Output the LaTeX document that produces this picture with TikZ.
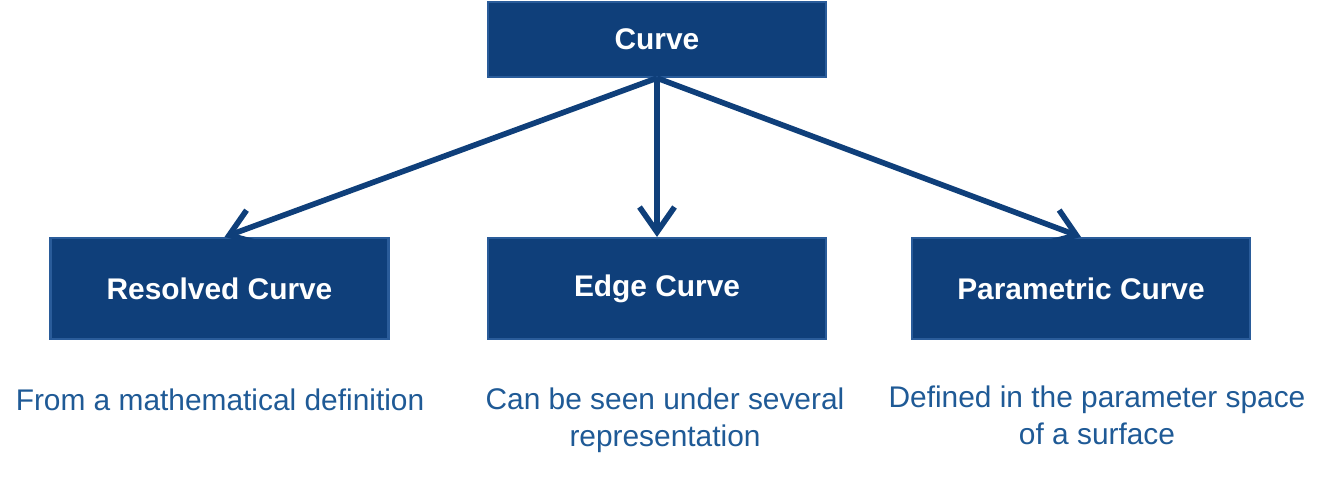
\documentclass[tikz,border=0pt]{standalone}
\usepackage{fontspec}
\setmainfont{Liberation Sans}
\usetikzlibrary{positioning,arrows.meta}
\definecolor{boxblue}{HTML}{0F3F7A}
\definecolor{edgeblue}{HTML}{2A5C9A}
\definecolor{textblue}{HTML}{1F5A96}

\begin{document}
\begin{tikzpicture}
[font=\fontsize{8.5}{10.5}\selectfont,
    >={Straight Barb[length=2.5mm,width=3.5mm]},
    every node/.style={align=center},
    kind/.style={rectangle, fill=boxblue, draw=edgeblue, line width=0.6pt,
    text=white, font=\fontsize{8.5}{10}\selectfont\bfseries,
    minimum width=3.38cm, minimum height=1.01cm},
    note/.style={text=textblue},
    link/.style={->, draw=boxblue, line width=1.6pt},
    ]
    \useasboundingbox (0,0) rectangle (13.29,4.84);

    \node[kind, minimum height=0.75cm] (curve) at (6.57,4.445) {Curve};
    \node[kind] (resolved) at (2.195,1.955) {Resolved Curve};
    \node[kind] (edge) at (6.57,1.955) {Edge Curve};
    \node[kind] (parametric) at (10.81,1.955) {Parametric Curve};

    \node[note] (resolved_note) at (2.2,0.84) {From a mathematical definition};
    \node[note] (edge_note) at (6.65,0.64) {Can be seen under several\\representation};
    \node[note] (parametric_note) at (10.97,0.69) {Defined in the parameter space\\of a surface};

    \draw[link] (curve.south) -- ([xshift=0.05cm]resolved.north);
    \draw[link] (curve.south) -- (edge.north);
    \draw[link] (curve.south) -- (parametric.north);

\end{tikzpicture}
\end{document}
